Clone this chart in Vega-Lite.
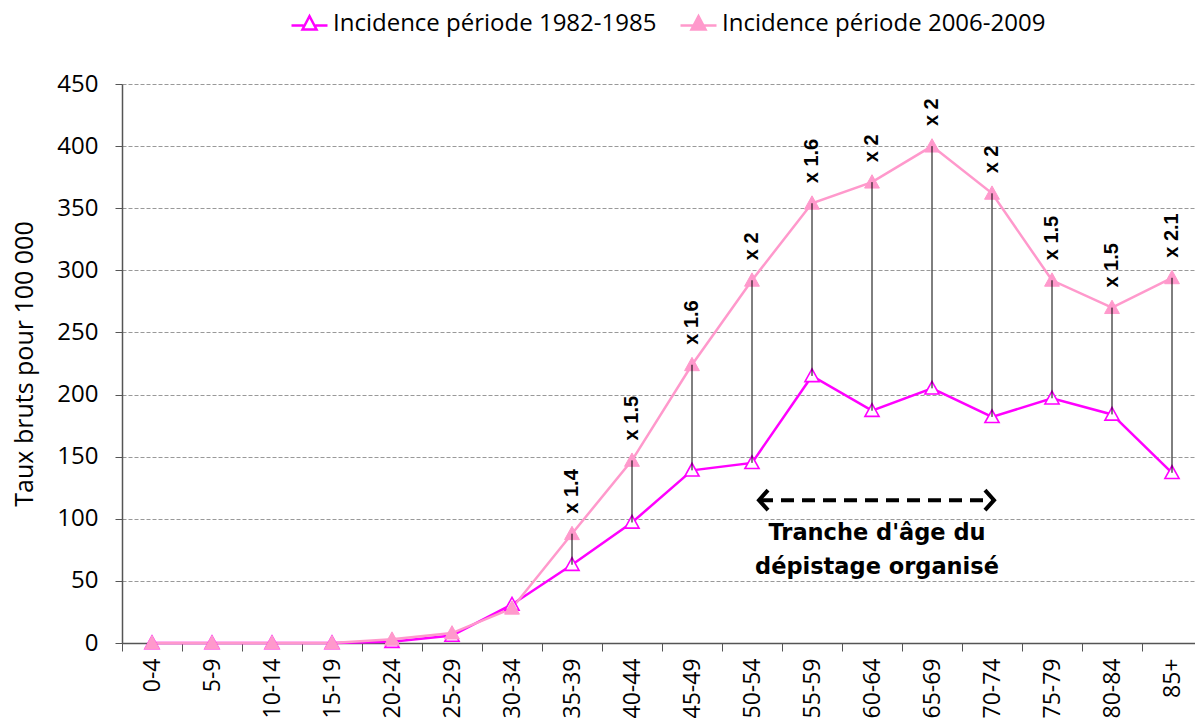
{
  "$schema": "https://vega.github.io/schema/vega-lite/v6.json",
  "width": 1080,
  "height": 559,
  "autosize": {"type": "none"},
  "padding": {"left": 122, "top": 84, "right": 0, "bottom": 75},
  "background": "white",
  "config": {
    "view": {"stroke": null},
    "font": "Open Sans",
    "legend": {
      "orient": "none",
      "legendX": 168,
      "legendY": -80,
      "direction": "horizontal",
      "padding": 0,
      "symbolSize": 1296,
      "symbolStrokeWidth": 2.5,
      "labelFont": "Open Sans",
      "labelFontSize": 24,
      "labelColor": "#000000",
      "labelOffset": 4,
      "labelLimit": 1000,
      "columnPadding": 18,
      "title": null
    }
  },
  "datasets": {
    "d": [
      {"age": "0-4", "a": 0, "b": 0, "r": null},
      {"age": "5-9", "a": 0, "b": 0, "r": null},
      {"age": "10-14", "a": 0, "b": 0, "r": null},
      {"age": "15-19", "a": 0, "b": 0, "r": null},
      {"age": "20-24", "a": 1, "b": 3, "r": null},
      {"age": "25-29", "a": 6, "b": 8, "r": null},
      {"age": "30-34", "a": 31, "b": 28, "r": null},
      {"age": "35-39", "a": 63, "b": 88, "r": "x 1.4"},
      {"age": "40-44", "a": 97, "b": 147, "r": "x 1.5"},
      {"age": "45-49", "a": 139, "b": 224, "r": "x 1.6"},
      {"age": "50-54", "a": 145, "b": 292, "r": "x 2"},
      {"age": "55-59", "a": 215, "b": 354, "r": "x 1.6"},
      {"age": "60-64", "a": 187, "b": 371, "r": "x 2"},
      {"age": "65-69", "a": 205, "b": 400, "r": "x 2"},
      {"age": "70-74", "a": 182, "b": 362, "r": "x 2"},
      {"age": "75-79", "a": 197, "b": 292, "r": "x 1.5"},
      {"age": "80-84", "a": 184, "b": 270, "r": "x 1.5"},
      {"age": "85+", "a": 137, "b": 294, "r": "x 2.1"}
    ],
    "arrow": [{"from": "50-54", "to": "70-74", "y": 115}],
    "note": [
      {"age": "60-64", "y": 88.6, "t": "Tranche d'âge du"},
      {"age": "60-64", "y": 61.2, "t": "dépistage organisé"}
    ],
    "leg": [
      {"s": "Incidence période 1982-1985"},
      {"s": "Incidence période 2006-2009"}
    ]
  },
  "layer": [
    {
      "data": {"name": "d"},
      "mark": {"type": "line", "color": "#FF00FF", "strokeWidth": 2.5},
      "encoding": {
        "x": {
          "field": "age", "type": "ordinal", "sort": null,
          "scale": {"type": "band", "domain": ["0-4","5-9","10-14","15-19","20-24","25-29","30-34","35-39","40-44","45-49","50-54","55-59","60-64","65-69","70-74","75-79","80-84","85+"], "paddingInner": 0, "paddingOuter": 0},
          "axis": {
            "title": null, "tickBand": "extent", "labelAngle": -90, "labelAlign": "right", "labelBaseline": "middle",
            "labelFont": "Open Sans", "labelFontSize": 23, "labelColor": "#000000", "labelPadding": 7,
            "tickSize": 8, "tickColor": "#555555", "domainColor": "#555555", "domainWidth": 1.5, "grid": false
          }
        },
        "y": {
          "field": "a", "type": "quantitative",
          "scale": {"domain": [0, 450], "nice": false},
          "axis": {
            "title": "Taux bruts pour 100 000", "titleFont": "Open Sans", "titleFontSize": 25, "titleFontWeight": "normal", "titleColor": "#000000", "titlePadding": 19,
            "values": [0, 50, 100, 150, 200, 250, 300, 350, 400, 450],
            "labelFont": "Open Sans", "labelFontSize": 24, "labelColor": "#000000", "labelPadding": 17,
            "tickSize": 7, "tickColor": "#555555", "domainColor": "#555555", "domainWidth": 1.5,
            "grid": true, "gridColor": "#999999", "gridDash": [4, 2], "gridWidth": 1
          }
        }
      }
    },
    {
      "data": {"name": "d"},
      "mark": {"type": "line", "color": "#FF99CC", "strokeWidth": 2.5},
      "encoding": {
        "x": {"field": "age", "type": "ordinal", "sort": null},
        "y": {"field": "b", "type": "quantitative"}
      }
    },
    {
      "data": {"name": "d"},
      "mark": {"type": "point", "shape": "M0,-1L1,0.8L-1,0.8Z", "filled": true, "fill": "#FFFFFF", "stroke": "#FF00FF", "strokeWidth": 1.6, "size": 200, "opacity": 1},
      "encoding": {
        "x": {"field": "age", "type": "ordinal", "sort": null},
        "y": {"field": "a", "type": "quantitative"}
      }
    },
    {
      "data": {"name": "d"},
      "mark": {"type": "point", "shape": "M0,-1L1,0.8L-1,0.8Z", "filled": true, "fill": "#FF99CC", "stroke": "#FF99CC", "strokeWidth": 1, "size": 220, "opacity": 1},
      "encoding": {
        "x": {"field": "age", "type": "ordinal", "sort": null},
        "y": {"field": "b", "type": "quantitative"}
      }
    },
    {
      "data": {"name": "d"},
      "transform": [{"filter": "datum.r != null"}],
      "mark": {"type": "rule", "color": "#000000", "strokeWidth": 1},
      "encoding": {
        "x": {"field": "age", "type": "ordinal", "sort": null},
        "y": {"field": "a", "type": "quantitative"},
        "y2": {"field": "b"}
      }
    },
    {
      "data": {"name": "d"},
      "transform": [{"filter": "datum.r != null"}],
      "mark": {"type": "text", "angle": 270, "align": "left", "baseline": "middle", "dx": 20, "font": "Liberation Sans", "fontWeight": "bold", "fontSize": 20, "color": "#000000"},
      "encoding": {
        "x": {"field": "age", "type": "ordinal", "sort": null},
        "y": {"field": "b", "type": "quantitative"},
        "text": {"field": "r"}
      }
    },
    {
      "data": {"name": "arrow"},
      "mark": {"type": "rule", "color": "#000000", "strokeWidth": 4, "strokeDash": [13, 8], "xOffset": 8},
      "encoding": {
        "x": {"field": "from", "type": "ordinal", "sort": null},
        "x2": {"field": "to"},
        "y": {"field": "y", "type": "quantitative"}
      }
    },
    {
      "data": {"name": "arrow"},
      "mark": {"type": "point", "shape": "M1.6,-1L0.7,0L1.6,1", "filled": false, "stroke": "#000000", "strokeWidth": 4, "size": 400, "opacity": 1},
      "encoding": {
        "x": {"field": "from", "type": "ordinal", "sort": null},
        "y": {"field": "y", "type": "quantitative"}
      }
    },
    {
      "data": {"name": "arrow"},
      "mark": {"type": "point", "shape": "M-0.7,-1L0.2,0L-0.7,1", "filled": false, "stroke": "#000000", "strokeWidth": 4, "size": 400, "opacity": 1},
      "encoding": {
        "x": {"field": "to", "type": "ordinal", "sort": null},
        "y": {"field": "y", "type": "quantitative"}
      }
    },
    {
      "data": {"name": "note"},
      "mark": {"type": "text", "align": "center", "baseline": "middle", "dx": 5, "font": "DejaVu Sans", "fontWeight": "bold", "fontSize": 22.5, "color": "#000000"},
      "encoding": {
        "x": {"field": "age", "type": "ordinal", "sort": null},
        "y": {"field": "y", "type": "quantitative"},
        "text": {"field": "t"}
      }
    },
    {
      "data": {"name": "leg"},
      "transform": [{"filter": "datum.s == 'none'"}],
      "mark": {"type": "point", "filled": true, "opacity": 1},
      "encoding": {
        "shape": {"field": "s", "type": "nominal", "scale": {"domain": ["Incidence période 1982-1985", "Incidence période 2006-2009"], "range": ["M-1,0.1L-0.33,0.1M0.33,0.1L1,0.1M-0.39,0.32L0,-0.42L0.39,0.32Z", "M-1,0.1L1,0.1M-0.39,0.32L0,-0.42L0.39,0.32Z"]}},
        "fill": {"field": "s", "type": "nominal", "scale": {"domain": ["Incidence période 1982-1985", "Incidence période 2006-2009"], "range": ["#FFFFFF", "#FF99CC"]}},
        "stroke": {"field": "s", "type": "nominal", "scale": {"domain": ["Incidence période 1982-1985", "Incidence période 2006-2009"], "range": ["#FF00FF", "#FF99CC"]}}
      }
    }
  ]
}
